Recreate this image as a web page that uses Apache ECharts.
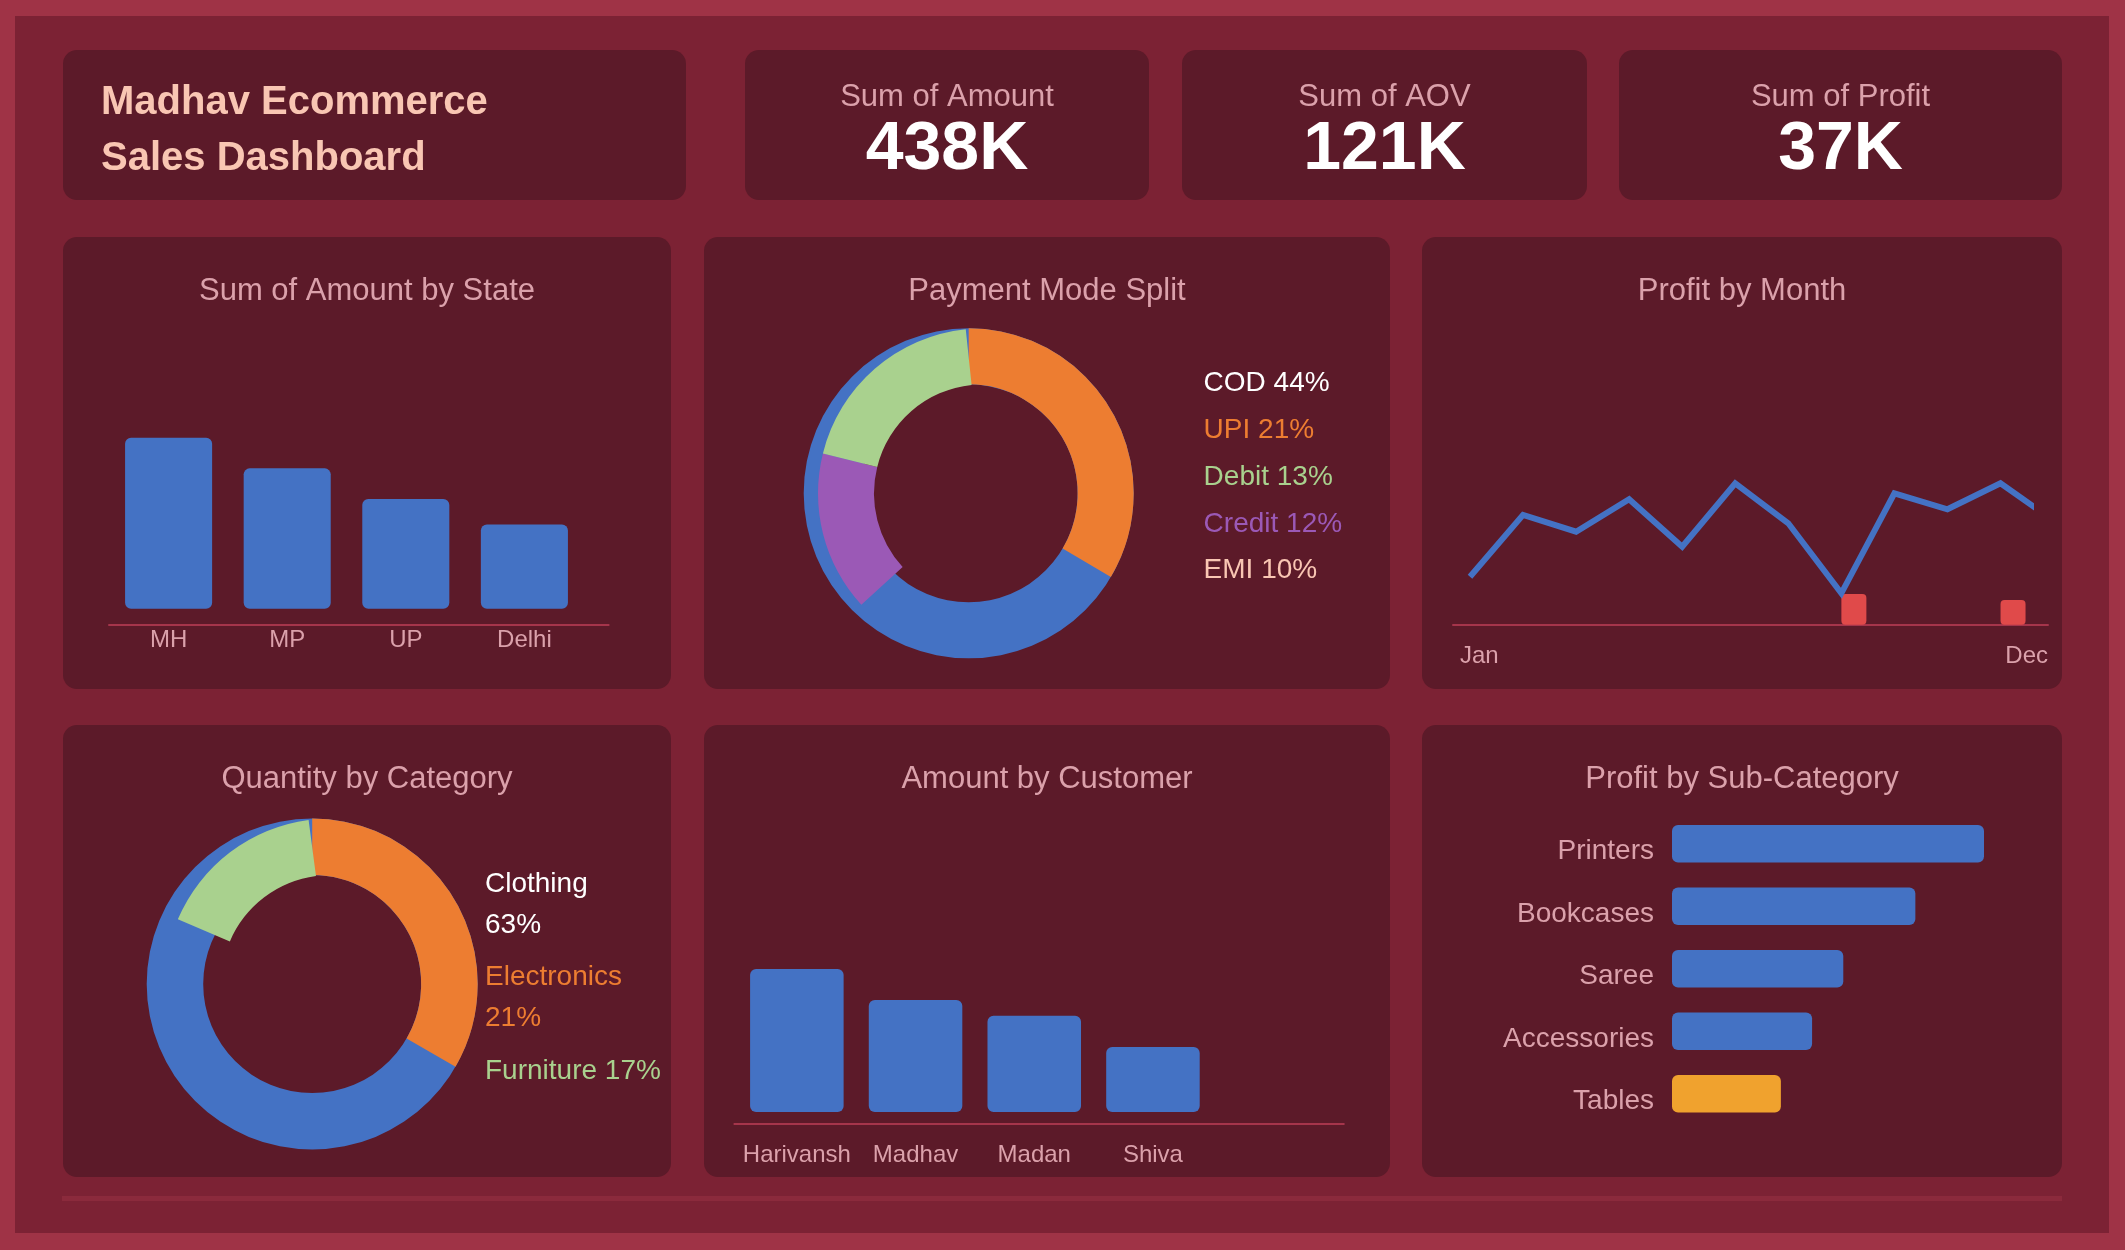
<!DOCTYPE html>
<html>
<head>
<meta charset="utf-8">
<script src="https://cdn.jsdelivr.net/npm/echarts@6/dist/echarts.min.js"></script>
<style>
html,body{margin:0;padding:0;background:#9f3346;}
#wrap{position:relative;width:2125px;height:1250px;background:#9f3346;overflow:hidden;}
.blk{position:absolute;}
#c{position:absolute;left:0;top:0;width:2125px;height:1250px;}
</style>
</head>
<body>
<div id="wrap"><div id="c"></div></div>
<script>
// ---------------- data ----------------
const dashTitle = ['Madhav Ecommerce', 'Sales Dashboard'];
const kpiLabels = ['Sum of Amount', 'Sum of AOV', 'Sum of Profit'];
const kpiValues = ['438K', '121K', '37K'];
const chartTitles = ['Sum of Amount by State', 'Payment Mode Split', 'Profit by Month',
                     'Quantity by Category', 'Amount by Customer', 'Profit by Sub-Category'];

const states = ['MH', 'MP', 'UP', 'Delhi'];
const amountByState = [128, 105, 82, 63];

const paymentModes = ['COD', 'UPI', 'Debit', 'Credit', 'EMI'];
const paymentPct = [44, 21, 13, 12, 10];
// arc sizes (degrees) as drawn in the picture
const upiArcDeg = 120.5;
const creditArcDeg = 56.5;
const debitArcDeg = 70;
const creditStartDeg = 227.5;

const months = ['Jan','Feb','Mar','Apr','May','Jun','Jul','Aug','Sep','Oct','Nov','Dec'];
const profitByMonth = [24.0, 54.9, 46.5, 62.7, 39.0, 70.7, 50.7, 15.7, 65.7, 57.7, 70.7, 52.1];
const lossByMonth = [null, null, null, null, null, null, null, 15.4, null, null, 12.4, null];

const categories = ['Clothing', 'Electronics', 'Furniture'];
const categoryPct = [63, 21, 17];
const categoryLegend = ['Clothing\n63%', 'Electronics\n21%', 'Furniture 17%'];
const electronicsArcDeg = 120;
const furnitureStartDeg = 293;
const furnitureArcDeg = 59.5;

const customers = ['Harivansh', 'Madhav', 'Madan', 'Shiva'];
const amountByCustomer = [110, 86, 74, 50];

const subCategories = ['Printers', 'Bookcases', 'Saree', 'Accessories', 'Tables'];
const profitBySubCat = [10.0, 7.8, 5.49, 4.49, 3.49];

// ---------------- style ----------------
const FONT = '"Liberation Sans", Arial, Helvetica, sans-serif';
const COL = {
  blue: '#4472c4', orange: '#ed7d31', green: '#a9d18e', purple: '#9b59b6',
  red: '#e04a4a', gold: '#f0a22e', text: '#dba1ab', peach: '#f9c6b3',
  axis: '#a5354b', card: '#5c1a29', inner: '#7c2234', stripe: '#8b2a3c'
};
const subCatColors = [COL.blue, COL.blue, COL.blue, COL.blue, COL.gold];

// ---------------- background blocks (HTML) ----------------
const wrap = document.getElementById('wrap');
function blk(x, y, w, h, color, r) {
  const d = document.createElement('div');
  d.className = 'blk';
  d.style.cssText = `left:${x}px;top:${y}px;width:${w}px;height:${h}px;background:${color};border-radius:${r||0}px;`;
  wrap.insertBefore(d, document.getElementById('c'));
}
blk(15, 16, 2094, 1217, COL.inner, 0);
const topCards = [[63, 623], [745, 404], [1182, 405], [1619, 443]];
topCards.forEach(c => blk(c[0], 50, c[1], 150, COL.card, 14));
const colCards = [[63, 608], [704, 686], [1422, 640]];
colCards.forEach(c => { blk(c[0], 237, c[1], 452, COL.card, 14); blk(c[0], 725, c[1], 452, COL.card, 14); });
blk(62, 1196, 2000, 5, COL.stripe, 0);

// ---------------- graphic texts ----------------
function txt(x, y, text, color, size, weight, align, valign, lh) {
  const st = { text, fill: color, fontSize: size, fontFamily: FONT, fontWeight: weight || 'normal',
    align: align || 'center', verticalAlign: valign || 'middle',
    textAlign: align || 'center', textVerticalAlign: valign || 'middle' };
  if (lh) st.lineHeight = lh;
  return { type: 'text', x, y, z: 100, silent: true, style: st };
}
const texts = [];
texts.push(txt(101, 103, dashTitle[0], COL.peach, 40, 'bold', 'left'));
texts.push(txt(101, 158.5, dashTitle[1], COL.peach, 40, 'bold', 'left'));
kpiLabels.forEach((l, i) => {
  const c = topCards[i + 1];
  const cx = c[0] + c[1] / 2;
  texts.push(txt(cx, 97.5, l, COL.text, 31));
  texts.push(txt(cx, 150.2, kpiValues[i], '#ffffff', 68, 'bold'));
});
chartTitles.forEach((t, i) => {
  const c = colCards[i % 3];
  const y = i < 3 ? 291.5 : 779;
  texts.push(txt(c[0] + c[1] / 2, y, t, COL.text, 31));
});
const payColors = ['#ffffff', COL.orange, COL.green, COL.purple, COL.peach];
paymentModes.forEach((m, i) => {
  texts.push(txt(1203.6, 383.5 + i * 46.8, m + ' ' + paymentPct[i] + '%', payColors[i], 28, 'normal', 'left'));
});
const catColors = ['#ffffff', COL.orange, COL.green];
categoryLegend.forEach((t, i) => {
  texts.push(txt(485, 863.5 + i * 93.5, t, catColors[i], 28, 'normal', 'left', 'top', 41));
});

// ---------------- axes helpers ----------------
const hidden = { show: false };
function lineOnlyX(gi) {
  return { type: 'value', gridIndex: gi, min: 0, max: 1,
    axisLine: { show: true, onZero: false, lineStyle: { color: COL.axis, width: 2 } },
    axisTick: hidden, axisLabel: hidden, splitLine: hidden };
}
function hiddenY(gi, min, max) {
  return { type: 'value', gridIndex: gi, min, max, show: false, splitLine: hidden };
}
const G = (left, top, width, height) => ({ left, top, width, height, containLabel: false, outerBoundsMode: 'none' });

const option = {
  animation: false,
  backgroundColor: 'transparent',
  textStyle: { fontFamily: FONT },
  grid: [
    G(109.3, 325, 474.4, 299.7),   // 0 state bars
    G(109, 325, 499.6, 299.7),     // 1 state axis line
    G(1470, 424.7, 560.5, 200),    // 2 month line
    G(1482.5, 424.7, 583.6, 200),  // 3 month loss bars
    G(1453, 424.7, 595, 200),      // 4 month axis
    G(737.5, 900, 474.8, 224),     // 5 customer bars
    G(734.4, 900, 609.4, 224),     // 6 customer axis line
    G(1672, 812.5, 374.4, 312.5)   // 7 sub-category
  ],
  xAxis: [
    { type: 'category', gridIndex: 0, data: states, axisLine: { show: false, onZero: false }, axisTick: hidden,
      axisLabel: { color: COL.text, fontSize: 24, margin: 4, fontFamily: FONT } },
    lineOnlyX(1),
    { type: 'value', gridIndex: 2, min: 0, max: 10.566, show: false, splitLine: hidden },
    { type: 'category', gridIndex: 3, data: months, boundaryGap: false, show: false },
    { type: 'category', gridIndex: 4, data: months, boundaryGap: false,
      axisLine: { show: true, onZero: false, lineStyle: { color: COL.axis, width: 2 } }, axisTick: hidden,
      axisLabel: { color: COL.text, fontSize: 24, margin: 20, fontFamily: FONT,
        interval: (i) => i === 0 || i === months.length - 1,
        alignMinLabel: 'left', alignMaxLabel: 'right', padding: [0, 0, 0, 7] } },
    { type: 'category', gridIndex: 5, data: customers, axisLine: { show: false, onZero: false }, axisTick: hidden,
      axisLabel: { color: COL.text, fontSize: 24, margin: 19.5, fontFamily: FONT, interval: 0 } },
    lineOnlyX(6),
    { type: 'value', gridIndex: 7, min: 0, max: 12, show: false, splitLine: hidden }
  ],
  yAxis: [
    hiddenY(0, -12, 212.3),
    hiddenY(1, 0, 1),
    hiddenY(2, 0, 100),
    hiddenY(3, 0, 100),
    hiddenY(4, 0, 1),
    hiddenY(5, -9.3, 163),
    hiddenY(6, 0, 1),
    { type: 'category', gridIndex: 7, data: subCategories, inverse: true,
      axisLine: hidden, axisTick: hidden,
      axisLabel: { color: COL.text, fontSize: 28, margin: 18, fontFamily: FONT,
        verticalAlign: 'top', lineHeight: 16 } }
  ],
  graphic: { elements: texts },
  series: [
    { type: 'bar', name: 'Sum of Amount', xAxisIndex: 0, yAxisIndex: 0, data: amountByState,
      barCategoryGap: '26.6%', itemStyle: { color: COL.blue, borderRadius: 6 }, silent: true },
    { type: 'line', name: 'Profit', xAxisIndex: 2, yAxisIndex: 2,
      data: profitByMonth.map((v, i) => [i, v]), symbol: 'none', clip: true, silent: true,
      lineStyle: { color: COL.blue, width: 6, join: 'miter', cap: 'butt' } },
    { type: 'bar', name: 'Loss', xAxisIndex: 3, yAxisIndex: 3, data: lossByMonth, barWidth: 25,
      itemStyle: { color: COL.red, borderRadius: 4 }, silent: true },
    { type: 'bar', name: 'Amount', xAxisIndex: 5, yAxisIndex: 5, data: amountByCustomer,
      barCategoryGap: '21.2%', itemStyle: { color: COL.blue, borderRadius: 6 }, silent: true },
    { type: 'bar', name: 'Profit by Sub-Category', xAxisIndex: 7, yAxisIndex: 7,
      data: profitBySubCat.map((v, i) => ({ value: v, itemStyle: { color: subCatColors[i] } })),
      barCategoryGap: '40%', itemStyle: { borderRadius: 6 }, silent: true },
    // Payment mode donut
    { type: 'pie', name: 'COD', center: [968.7, 493.3], radius: [109, 165], silent: true,
      label: hidden, labelLine: hidden, emphasis: { disabled: true },
      data: [{ name: paymentModes[0], value: paymentPct[0], itemStyle: { color: COL.blue } }] },
    { type: 'pie', name: 'UPI', center: [968.7, 493.3], radius: [109, 165], silent: true,
      startAngle: 90, endAngle: 90 - upiArcDeg,
      label: hidden, labelLine: hidden, emphasis: { disabled: true },
      data: [{ name: paymentModes[1], value: upiArcDeg, itemStyle: { color: COL.orange } }] },
    { type: 'pie', name: 'Credit/Debit', center: [983, 493.3], radius: [109, 165], silent: true,
      startAngle: 90 - creditStartDeg, endAngle: 90 - creditStartDeg - creditArcDeg - debitArcDeg,
      label: hidden, labelLine: hidden, emphasis: { disabled: true },
      data: [
        { name: paymentModes[3], value: creditArcDeg, itemStyle: { color: COL.purple } },
        { name: paymentModes[2], value: debitArcDeg, itemStyle: { color: COL.green } }
      ] },
    // Quantity by category donut
    { type: 'pie', name: 'Clothing', center: [312.2, 984], radius: [109, 165.5], silent: true,
      label: hidden, labelLine: hidden, emphasis: { disabled: true },
      data: [{ name: categories[0], value: categoryPct[0], itemStyle: { color: COL.blue } }] },
    { type: 'pie', name: 'Electronics', center: [312.2, 984], radius: [109, 165.5], silent: true,
      startAngle: 90, endAngle: 90 - electronicsArcDeg,
      label: hidden, labelLine: hidden, emphasis: { disabled: true },
      data: [{ name: categories[1], value: electronicsArcDeg, itemStyle: { color: COL.orange } }] },
    { type: 'pie', name: 'Furniture', center: [330.2, 984], radius: [109, 165.5], silent: true,
      startAngle: 90 - furnitureStartDeg, endAngle: 90 - furnitureStartDeg - furnitureArcDeg,
      label: hidden, labelLine: hidden, emphasis: { disabled: true },
      data: [{ name: categories[2], value: furnitureArcDeg, itemStyle: { color: COL.green } }] }
  ]
};

const chart = echarts.init(document.getElementById('c'), null, { renderer: 'canvas', width: 2125, height: 1250 });
chart.setOption(option);
</script>
</body>
</html>
